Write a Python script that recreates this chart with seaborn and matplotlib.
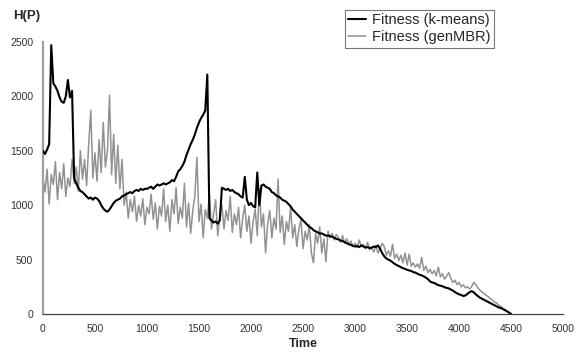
import numpy as np
import pandas as pd
import matplotlib
matplotlib.use("Agg")
import matplotlib.pyplot as plt
import seaborn as sns

# Time grid (every 20 time units, 0..4500)
time = np.arange(0, 4501, 20)

# Fitness (k-means), 10 values per row (200 time units)
kmeans = [
    1500, 1470, 1510, 1560, 2470, 2120, 2090, 2050, 1990, 1950,
    1940, 2000, 2150, 1990, 2050, 1250, 1200, 1160, 1130, 1120,
    1100, 1080, 1060, 1070, 1050, 1070, 1060, 1040, 1000, 970,
    950, 940, 960, 990, 1020, 1040, 1050, 1060, 1080, 1090,
    1100, 1110, 1120, 1110, 1130, 1140, 1130, 1150, 1140, 1150,
    1150, 1160, 1170, 1150, 1170, 1190, 1180, 1190, 1200, 1190,
    1200, 1210, 1230, 1220, 1260, 1310, 1330, 1360, 1400, 1460,
    1510, 1560, 1600, 1650, 1710, 1760, 1800, 1830, 1870, 2200,
    880, 860, 840, 850, 830, 860, 1160, 1150, 1140, 1150,
    1130, 1140, 1120, 1110, 1100, 1080, 1070, 1260, 1050, 1000,
    1020, 990, 980, 1300, 1000, 1180, 1190, 1170, 1160, 1150,
    1120, 1110, 1090, 1080, 1070, 1050, 1040, 1030, 1010, 990,
    960, 940, 920, 900, 880, 860, 840, 820, 800, 790,
    770, 760, 750, 740, 740, 730, 720, 720, 715, 710,
    700, 690, 685, 675, 670, 660, 650, 640, 635, 625,
    620, 625, 615, 630, 620, 610, 615, 605, 610, 620,
    615, 630, 600, 560, 530, 510, 500, 490, 475, 460,
    450, 440, 430, 420, 415, 405, 400, 395, 385, 380,
    370, 360, 355, 345, 335, 320, 300, 290, 285, 275,
    265, 260, 255, 245, 240, 235, 225, 215, 200, 190,
    180, 175, 165, 170, 185, 200, 210, 200, 180, 165,
    150, 140, 130, 120, 110, 100, 90, 80, 70, 60,
    55, 45, 35, 25, 12, 0,
]

# Fitness (genMBR), same grid
genmbr = [
    1250, 1120, 1330, 1010, 1280, 1190, 1400, 1050, 1300, 1150,
    1380, 1080, 1250, 1170, 1420, 1200, 1350, 1130, 1500, 1240,
    1420, 1180, 1560, 1870, 1250, 1480, 1220, 1600, 1300, 1760,
    1350, 1500, 2010, 1280, 1650, 1200, 1550, 1150, 1420, 1000,
    1120, 880, 1050, 940, 1080, 850, 1000, 900, 1060, 820,
    980, 920, 1100, 870, 1020, 780, 990, 900, 1150, 850,
    1000, 760, 1050, 920, 1160, 830, 980, 880, 1200, 800,
    1020, 740, 950, 1080, 1440, 850, 1010, 700, 960, 880,
    1100, 780, 920, 1050, 720, 900, 1000, 780, 950, 860,
    1080, 750, 920, 820, 980, 700, 880, 1000, 760, 900,
    650, 850, 960, 720, 1150, 800, 920, 560, 830, 950,
    700, 880, 780, 1240, 750, 900, 640, 850, 760, 980,
    700, 820, 620, 780, 870, 600, 760, 680, 820, 560,
    470, 740, 650, 800, 560, 690, 480, 760, 700, 740,
    680, 730, 700, 660, 720, 650, 690, 640, 670, 620,
    650, 610, 680, 620, 640, 600, 660, 590, 610, 570,
    630, 560, 600, 650, 620, 540, 580, 530, 640, 510,
    550, 490, 540, 470, 560, 450, 550, 440, 470, 430,
    460, 420, 520, 400, 440, 380, 410, 370, 400, 350,
    430, 340, 370, 320, 350, 380, 330, 290, 310, 270,
    290, 250, 270, 240, 250, 230, 250, 290, 270, 240,
    220, 200, 190, 170, 160, 140, 130, 110, 100, 80,
    70, 55, 40, 25, 12, 0,
]

sns.set_style("white")
plt.rcParams['font.family'] = ['Liberation Sans', 'DejaVu Sans']

fig = plt.figure(figsize=(5.8, 3.52), dpi=100)
ax = fig.add_axes([0.074, 0.108, 0.897, 0.773])

sns.lineplot(x=time, y=genmbr, ax=ax, color="#929292", lw=1.1,
             label="Fitness (genMBR)", zorder=2)
sns.lineplot(x=time, y=kmeans, ax=ax, color="black", lw=1.5,
             label="Fitness (k-means)", zorder=3)

ax.set_xlim(0, 5000)
ax.set_ylim(0, 2500)
ax.set_xticks(range(0, 5001, 500))
ax.set_yticks(range(0, 2501, 500))
ax.tick_params(axis="both", labelsize=7.5, colors="#333333", length=3.5,
               direction="out", width=0.8)
ax.tick_params(axis="y", colors="#8c8c8c", labelcolor="#333333")

for s in ["top", "right"]:
    ax.spines[s].set_visible(False)
ax.spines["left"].set_color("#a0a0a0")
ax.spines["left"].set_linewidth(1.6)
ax.spines["bottom"].set_color("#404040")
ax.spines["bottom"].set_linewidth(0.9)

ax.set_xlabel("Time", fontsize=9, fontweight="bold", labelpad=3)
ax.set_ylabel("")
fig.text(0.022, 0.955, "H(P)", fontsize=9.5, fontweight="bold", va="center")

h, l = ax.get_legend_handles_labels()
leg = ax.legend(h[::-1], l[::-1], loc="upper left",
                bbox_to_anchor=(0.58, 1.118), fontsize=10.5, frameon=True,
                fancybox=False, edgecolor="#555555", handlelength=1.2,
                handletextpad=0.4, borderpad=0.25, labelspacing=0.2,
                borderaxespad=0)
leg.get_frame().set_linewidth(0.8)

fig.savefig("out.png", dpi=100)
